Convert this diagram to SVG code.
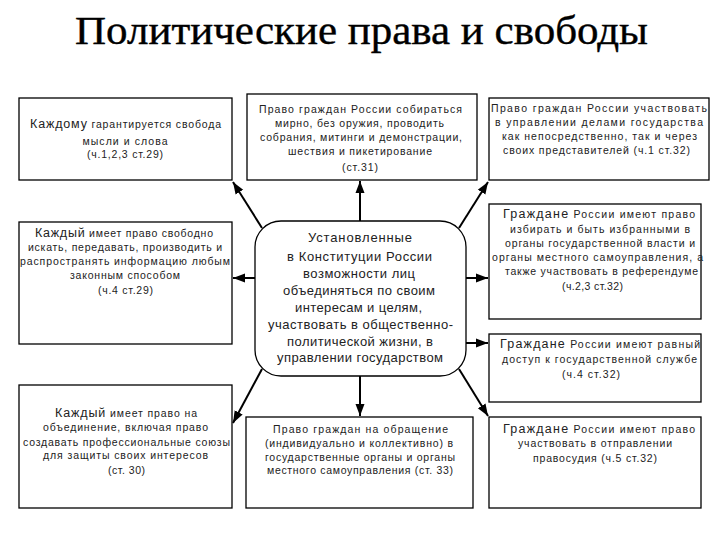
<svg xmlns="http://www.w3.org/2000/svg" width="720" height="540" viewBox="0 0 720 540">
<style>
.box{fill:#fff;stroke:#000;stroke-width:1.3}
.t{font-family:"Liberation Sans",Arial,sans-serif;font-size:10.5px;fill:#222;text-anchor:middle}
.c{font-family:"Liberation Sans",Arial,sans-serif;font-size:13px;fill:#222;text-anchor:middle}
.big{font-size:12.5px}
.title{font-family:"Liberation Serif","Times New Roman",serif;font-size:40px;fill:#000;stroke:#000;stroke-width:0.4;text-anchor:middle}
.conn{stroke:#000;stroke-width:2;fill:none;marker-end:url(#ah)}
</style>
<defs>
<marker id="ah" markerUnits="userSpaceOnUse" markerWidth="13" markerHeight="10" refX="12" refY="5" orient="auto">
<path d="M0,0.5 L12,5 L0,9.5 z" fill="#000"/>
</marker>
</defs>
<rect width="720" height="540" fill="#fff"/>
<text class="title" x="361.5" y="44" textLength="573" lengthAdjust="spacingAndGlyphs">Политические права и свободы</text>

<g id="connectors">
<path class="conn" d="M360,221 L360,181"/>
<path class="conn" d="M360,376 L360,416"/>
<path class="conn" d="M255,278 L233,278"/>
<path class="conn" d="M466,278 L488,278"/>
<path class="conn" d="M466,343 L488,343"/>
<path class="conn" d="M262,228 L233,182"/>
<path class="conn" d="M459,228 L488,182"/>
<path class="conn" d="M262,369 L233,423"/>
<path class="conn" d="M459,369 L488,416"/>
</g>

<g id="n1">
<rect class="box" x="19" y="98" width="213" height="82"/>
<text class="t" x="125.5" y="128" textLength="191"><tspan class="big">Каждому</tspan> гарантируется свобода</text>
<text class="t" x="125" y="145" textLength="85">мысли и слова</text>
<text class="t" x="125" y="158" textLength="76">(ч.1,2,3 ст.29)</text>
</g>

<g id="n2">
<rect class="box" x="247" y="94" width="230" height="86"/>
<text class="t" x="360.5" y="113" textLength="203">Право граждан России собираться</text>
<text class="t" x="359.5" y="127" textLength="169">мирно, без оружия, проводить</text>
<text class="t" x="361" y="141" textLength="202">собрания, митинги и демонстрации,</text>
<text class="t" x="360" y="155" textLength="144">шествия и пикетирование</text>
<text class="t" x="360" y="171" textLength="36">(ст.31)</text>
</g>

<g id="n3">
<rect class="box" x="489" y="98" width="220" height="82"/>
<text class="t" x="599" y="112" textLength="216">Право граждан России участвовать</text>
<text class="t" x="599" y="126" textLength="208">в управлении делами государства</text>
<text class="t" x="599.5" y="140" textLength="195">как непосредственно, так и через</text>
<text class="t" x="596.5" y="154" textLength="187">своих представителей (ч.1 ст.32)</text>
</g>

<g id="n4">
<rect class="box" x="19" y="222" width="213" height="122"/>
<text class="t" x="124" y="237" textLength="178"><tspan class="big">Каждый</tspan> имеет право свободно</text>
<text class="t" x="125" y="251" textLength="194">искать, передавать, производить и</text>
<text class="t" x="125" y="265" textLength="210">распространять информацию любым</text>
<text class="t" x="125" y="279" textLength="110">законным способом</text>
<text class="t" x="125.5" y="294" textLength="55">(ч.4 ст.29)</text>
</g>

<g id="n5">
<rect class="box" x="255" y="221" width="211" height="155" rx="26" ry="26"/>
<text class="c" x="360" y="242" textLength="104">Установленные</text>
<text class="c" x="359.5" y="261" textLength="145">в Конституции России</text>
<text class="c" x="359" y="278" textLength="112">возможности лиц</text>
<text class="c" x="359" y="295" textLength="152">объединяться по своим</text>
<text class="c" x="358.5" y="312" textLength="127">интересам и целям,</text>
<text class="c" x="360.5" y="329" textLength="185">участвовать в общественно-</text>
<text class="c" x="360" y="346" textLength="146">политической жизни, в</text>
<text class="c" x="360" y="362" textLength="166">управлении государством</text>
</g>

<g id="n6">
<rect class="box" x="489" y="204" width="212" height="115"/>
<text class="t" x="599" y="218" textLength="192"><tspan class="big">Граждане</tspan> России имеют право</text>
<text class="t" x="600" y="233" textLength="180">избирать и быть избранными в</text>
<text class="t" x="600" y="247" textLength="190">органы государственной власти и</text>
<text class="t" x="597.5" y="261" textLength="211">органы местного самоуправления, а</text>
<text class="t" x="601.5" y="275" textLength="193">также участвовать в референдуме</text>
<text class="t" x="592.5" y="290" textLength="61">(ч.2,3 ст.32)</text>
</g>

<g id="n7">
<rect class="box" x="489" y="334" width="212" height="68"/>
<text class="t" x="600" y="348" textLength="200"><tspan class="big">Граждане</tspan> России имеют равный</text>
<text class="t" x="599.5" y="363" textLength="195">доступ к государственной службе</text>
<text class="t" x="591" y="378" textLength="58">(ч.4 ст.32)</text>
</g>

<g id="n8">
<rect class="box" x="489" y="417" width="212" height="91"/>
<text class="t" x="599" y="433" textLength="192"><tspan class="big">Граждане</tspan> России имеют право</text>
<text class="t" x="595" y="447" textLength="154">участвовать в отправлении</text>
<text class="t" x="595" y="462" textLength="124">правосудия (ч.5 ст.32)</text>
</g>

<g id="n9">
<rect class="box" x="246" y="417" width="227" height="91"/>
<text class="t" x="360.5" y="433" textLength="175">Право граждан на обращение</text>
<text class="t" x="359" y="447" textLength="188">(индивидуально и коллективно) в</text>
<text class="t" x="360" y="461" textLength="190">государственные органы и органы</text>
<text class="t" x="360" y="474" textLength="186">местного самоуправления (ст. 33)</text>
</g>

<g id="n10">
<rect class="box" x="19" y="385" width="213" height="123"/>
<text class="t" x="126" y="417" textLength="142"><tspan class="big">Каждый</tspan> имеет право на</text>
<text class="t" x="125.5" y="431" textLength="165">объединение, включая право</text>
<text class="t" x="126.5" y="446" textLength="207">создавать профессиональные союзы</text>
<text class="t" x="125.5" y="459" textLength="165">для защиты своих интересов</text>
<text class="t" x="126.5" y="474" textLength="37">(ст. 30)</text>
</g>
</svg>
